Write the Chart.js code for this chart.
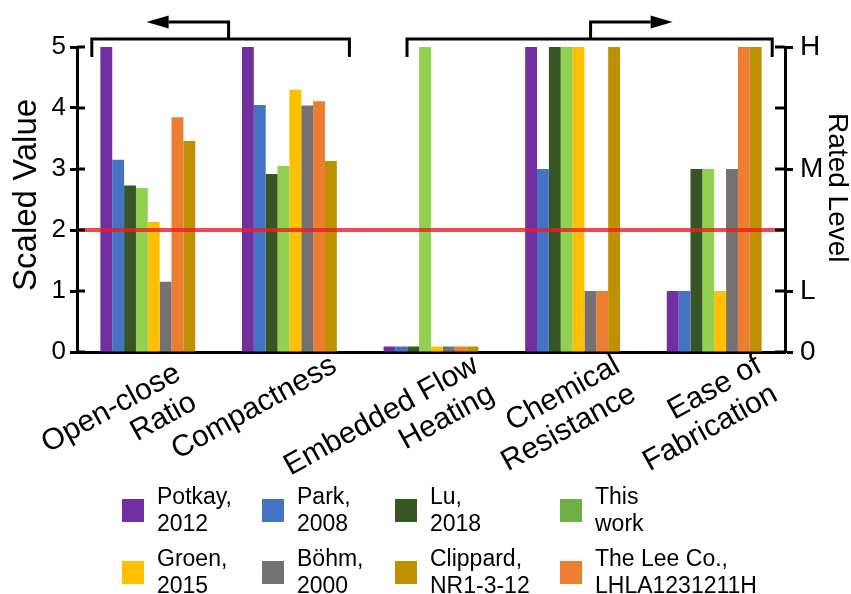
<!DOCTYPE html>
<html lang="en">
<head>
  <meta charset="UTF-8">
  <title>Valve comparison</title>
  <script src="https://cdn.jsdelivr.net/npm/chart.js"></script>
  <style>
    body {
      margin: 0;
      background: #fff;
      font-family: "Liberation Sans", Arial, sans-serif;
    }
    #wrap {
      position: relative;
      width: 851px;
      height: 594px;
      overflow: hidden;
    }
    #legend .item {
      position: absolute;
      display: flex;
      align-items: center;
      height: 54px;
    }
    #legend .swatch {
      width: 22px;
      height: 23px;
      margin-right: 13px;
    }
    #legend .txt {
      font-size: 23px;
      line-height: 27px;
      color: #000;
      white-space: pre;
    }
  </style>
</head>
<body>
  <div id="wrap">
    <canvas id="chart" width="851" height="594"></canvas>
    <div id="legend"></div>
  </div>

  <script>
    // categories (two-line labels; trailing spaces nudge the first label left)
    const categories = [
      ["Open-close  ", "Ratio  "],
      ["Compactness"],
      ["Embedded Flow", "Heating"],
      ["Chemical", "Resistance"],
      ["Ease of", "Fabrication"]
    ];

    // series, in bar order
    const potkay   = [5,    5,    0.09, 5, 1];
    const park     = [3.15, 4.05, 0.09, 3, 1];
    const lu       = [2.73, 2.92, 0.09, 5, 3];
    const thisWork = [2.69, 3.05, 5,    5, 3];
    const groen    = [2.13, 4.30, 0.09, 5, 1];
    const bohm     = [1.15, 4.04, 0.09, 1, 3];
    const lee      = [3.85, 4.11, 0.09, 1, 5];
    const clippard = [3.46, 3.13, 0.09, 5, 5];

    const thresholdValue = 2;

    // right axis (rated level)
    const rightTickValues = [0, 1, 3, 5];
    const rightTickLabels = ["0", "L", "M", "H"];

    const series = [
      { label: "Potkay,\n2012", data: potkay, color: "#7030A0", key: "#7030A0" },
      { label: "Park,\n2008", data: park, color: "#4472C4", key: "#4472C4" },
      { label: "Lu,\n2018", data: lu, color: "#375623", key: "#375623" },
      { label: "This\nwork", data: thisWork, color: "#92D050", key: "#70AD47" },
      { label: "Groen,\n2015", data: groen, color: "#FFC000", key: "#FFC000" },
      { label: "Böhm,\n2000", data: bohm, color: "#767171", key: "#767171" },
      { label: "The Lee Co.,\nLHLA1231211H", data: lee, color: "#ED7D31", key: "#ED7D31" },
      { label: "Clippard,\nNR1-3-12", data: clippard, color: "#BF9000", key: "#BF9000" }
    ];

    // legend layout: which series in which slot
    const legendOrder = [0, 1, 2, 3, 4, 5, 7, 6];
    const legendCols = [122, 262, 395, 560];
    const legendRows = [483, 545];

    const legendEl = document.getElementById("legend");
    legendOrder.forEach((si, i) => {
      const s = series[si];
      const item = document.createElement("div");
      item.className = "item";
      item.style.left = legendCols[i % 4] + "px";
      item.style.top = legendRows[Math.floor(i / 4)] + "px";
      item.innerHTML = `<div class="swatch" style="background:${s.key}"></div><div class="txt">${s.label}</div>`;
      legendEl.appendChild(item);
    });

    const FONT = '"Liberation Sans", Arial, sans-serif';
    Chart.defaults.font.family = FONT;
    Chart.defaults.color = "#000";

    // red threshold line, inner half of tick marks, top brackets
    const extras = {
      id: "extras",
      afterDatasetsDraw(chart) {
        const { ctx, chartArea, scales } = chart;
        const y = scales.y.getPixelForValue(thresholdValue);
        ctx.save();
        ctx.strokeStyle = "rgba(232, 30, 36, 0.8)";
        ctx.lineWidth = 4;
        ctx.beginPath();
        ctx.moveTo(chartArea.left, y);
        ctx.lineTo(chartArea.right, y);
        ctx.stroke();
        ctx.restore();
      },
      afterDraw(chart) {
        const { ctx, chartArea, scales } = chart;
        ctx.save();
        ctx.strokeStyle = "#000";
        ctx.fillStyle = "#000";
        ctx.lineWidth = 3;

        // inward tick marks
        scales.y.ticks.forEach(t => {
          const py = scales.y.getPixelForValue(t.value);
          ctx.beginPath();
          ctx.moveTo(chartArea.left, py);
          ctx.lineTo(chartArea.left + 8, py);
          ctx.stroke();
        });
        scales.y1.ticks.forEach(t => {
          const py = scales.y1.getPixelForValue(t.value);
          ctx.beginPath();
          ctx.moveTo(chartArea.right, py);
          ctx.lineTo(chartArea.right - 10, py);
          ctx.stroke();
        });

        // brackets with arrows
        const top = chartArea.top;
        const by = top - 8;
        const drawBracket = (x1, x2, dir, stemShift) => {
          const sx = (x1 + x2) / 2 + stemShift;
          ctx.beginPath();
          ctx.moveTo(x1, top + 10);
          ctx.lineTo(x1, by);
          ctx.lineTo(x2, by);
          ctx.lineTo(x2, top + 10);
          ctx.stroke();
          const ay = by - 17;
          const tip = sx + dir * 82;
          const base = sx + dir * 60;
          ctx.beginPath();
          ctx.moveTo(sx, by);
          ctx.lineTo(sx, ay);
          ctx.lineTo(base, ay);
          ctx.stroke();
          ctx.beginPath();
          ctx.moveTo(tip, ay);
          ctx.lineTo(base, ay - 6.5);
          ctx.lineTo(base, ay + 6.5);
          ctx.closePath();
          ctx.fill();
        };
        const px = i => scales.x.getPixelForValue(i);
        drawBracket(px(0) - 56, px(1) + 60, -1, 8);
        drawBracket(px(2) - 24, px(4) + 58, 1, 1);
        ctx.restore();
      }
    };

    new Chart(document.getElementById("chart"), {
      type: "bar",
      data: {
        labels: categories,
        datasets: series.map(s => ({
          label: s.label,
          data: s.data,
          backgroundColor: s.color,
          borderWidth: 0,
          yAxisID: "y"
        }))
      },
      options: {
        responsive: false,
        animation: false,
        layout: { padding: { top: 47, left: 0, right: 0, bottom: 0 } },
        datasets: {
          bar: { categoryPercentage: 0.67, barPercentage: 1.0 }
        },
        plugins: {
          legend: { display: false },
          tooltip: { enabled: false }
        },
        scales: {
          x: {
            grid: { display: false, drawTicks: false },
            border: { display: true, color: "#000", width: 3 },
            ticks: {
              autoSkip: false,
              minRotation: 29,
              maxRotation: 29,
              labelOffset: 45,
              padding: -3,
              font: { size: 30, lineHeight: 1.1 },
              color: "#000"
            },
            afterFit(scale) {
              scale.height = 242;
              scale.paddingLeft = 0;
              scale.paddingRight = 0;
            }
          },
          y: {
            position: "left",
            min: 0,
            max: 5,
            grid: {
              display: true,
              drawOnChartArea: false,
              drawTicks: true,
              tickLength: 7,
              tickWidth: 3,
              color: "#000"
            },
            border: { display: true, color: "#000", width: 3 },
            ticks: {
              stepSize: 0.5,
              padding: 4,
              font: { size: 26 },
              color: "#000",
              callback: v => (Number.isInteger(v) ? String(v) : "")
            },
            title: {
              display: true,
              text: " Scaled Value",
              font: { size: 33, lineHeight: 1.2 },
              padding: { top: 7, bottom: 0 },
              color: "#000"
            },
            afterFit(scale) {
              scale.width = 77;
              scale.paddingTop = 0;
              scale.paddingBottom = 0;
            }
          },
          y1: {
            position: "right",
            min: 0,
            max: 5,
            grid: {
              display: true,
              drawOnChartArea: false,
              drawTicks: true,
              tickLength: 8,
              tickWidth: 3,
              color: ctx => (rightTickValues.includes(ctx.tick.value) ? "#000" : "rgba(0,0,0,0)")
            },
            border: { display: true, color: "#000", width: 3 },
            ticks: {
              stepSize: 0.5,
              padding: 7,
              font: { size: 28 },
              color: "#000",
              callback: v => {
                const i = rightTickValues.indexOf(v);
                return i >= 0 ? rightTickLabels[i] : "";
              }
            },
            title: {
              display: true,
              text: "Rated Level   ",
              font: { size: 28, lineHeight: 1.0 },
              padding: { top: 0, bottom: 0 },
              color: "#000"
            },
            afterFit(scale) {
              scale.width = 66;
              scale.paddingTop = 0;
              scale.paddingBottom = 0;
            }
          }
        }
      },
      plugins: [extras]
    });
  </script>
</body>
</html>
